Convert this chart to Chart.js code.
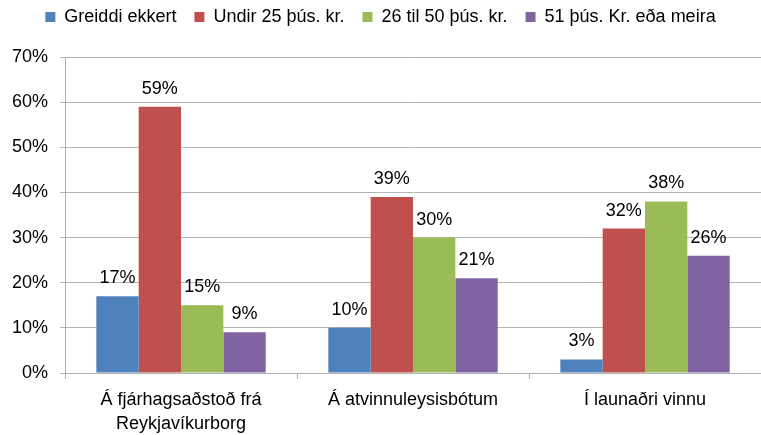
<!DOCTYPE html>
<html>
<head>
<meta charset="utf-8">
<script src="https://cdn.jsdelivr.net/npm/chart.js@4"></script>
<style>
  html, body { margin: 0; padding: 0; background: #fff; }
  #wrap { width: 761px; height: 435px; }
</style>
</head>
<body>
<div id="wrap"><canvas id="myChart" width="761" height="435"></canvas></div>
<script>
// gögn
var categories = [
    ['Á fjárhagsaðstoð frá', 'Reykjavíkurborg'],
    'Á atvinnuleysisbótum',
    'Í launaðri vinnu'
];
var seriesNames = ['Greiddi ekkert', 'Undir 25 þús. kr.', '26 til 50 þús. kr.', '51 þús. Kr. eða meira'];
var greiddiEkkert = [17, 10, 3];
var undir25 = [59, 39, 32];
var til50 = [15, 30, 38];
var yfir51 = [9, 21, 26];
var colors = ['#4F81BD', '#C0504D', '#9BBB59', '#8064A2'];

var FONT = "'Liberation Sans', Arial, sans-serif";

// merki fyrir ofan súlur
var valueLabels = {
    id: 'valueLabels',
    afterDatasetsDraw: function(chart) {
        var ctx = chart.ctx;
        ctx.save();
        ctx.font = '18px ' + FONT;
        ctx.fillStyle = '#000';
        ctx.textAlign = 'center';
        ctx.textBaseline = 'alphabetic';
        chart.data.datasets.forEach(function(ds, i) {
            chart.getDatasetMeta(i).data.forEach(function(bar, j) {
                ctx.fillText(ds.data[j] + '%', bar.x, bar.y - 13);
            });
        });
        ctx.restore();
    }
};

// bil undir skýringum
var legendGap = {
    id: 'legendGap',
    beforeInit: function(chart) {
        var fit = chart.legend.fit;
        chart.legend.fit = function() {
            fit.bind(chart.legend)();
            this.height = 67;
        };
    }
};

new Chart(
    document.getElementById('myChart').getContext('2d'), {
        type: 'bar',
        data: {
            labels: categories,
            datasets: [
                { label: seriesNames[0], data: greiddiEkkert, backgroundColor: colors[0] },
                { label: seriesNames[1], data: undir25, backgroundColor: colors[1] },
                { label: seriesNames[2], data: til50, backgroundColor: colors[2] },
                { label: seriesNames[3], data: yfir51, backgroundColor: colors[3] }
            ]
        },
        options: {
            responsive: false,
            animation: false,
            categoryPercentage: 0.73,
            barPercentage: 1.0,
            layout: { padding: { left: 0, right: 0, top: -10, bottom: 0 } },
            plugins: {
                legend: {
                    position: 'top',
                    labels: {
                        boxWidth: 10,
                        boxHeight: 10,
                        padding: 18,
                        color: '#000',
                        font: { family: FONT, size: 18 }
                    }
                },
                tooltip: { enabled: false }
            },
            scales: {
                x: {
                    afterFit: function(scale) { scale.height = 62; },
                    grid: {
                        offset: true,
                        drawOnChartArea: false,
                        drawTicks: true,
                        tickLength: 6,
                        color: '#AFAFAF'
                    },
                    border: { color: '#AFAFAF' },
                    ticks: {
                        color: '#000',
                        font: { family: FONT, size: 18, lineHeight: 1.33 },
                        padding: 9,
                        maxRotation: 0
                    }
                },
                y: {
                    min: 0,
                    max: 70,
                    ticks: {
                        stepSize: 10,
                        color: '#000',
                        font: { family: FONT, size: 18 },
                        padding: 12,
                        callback: function(v) { return v + '%'; }
                    },
                    grid: {
                        color: '#B4B4B4',
                        tickLength: 5
                    },
                    border: { color: '#AFAFAF' }
                }
            }
        },
        plugins: [valueLabels, legendGap]
    }
);
</script>
</body>
</html>
